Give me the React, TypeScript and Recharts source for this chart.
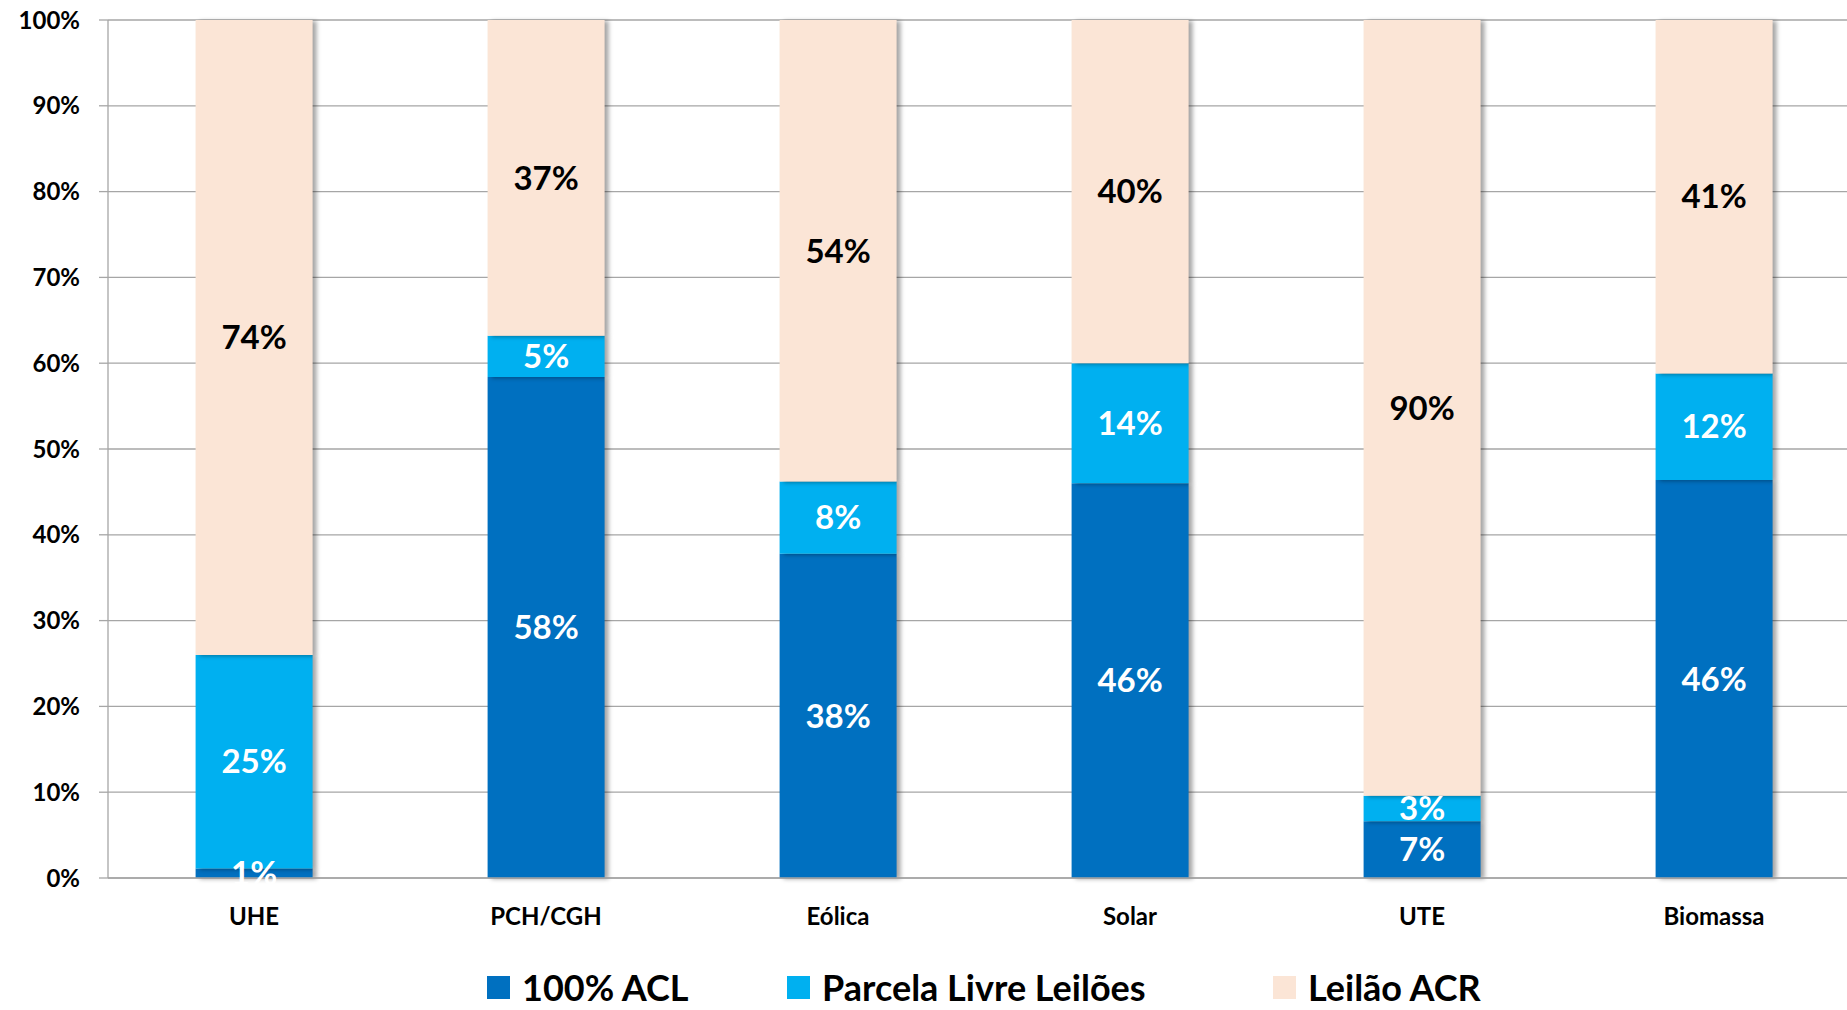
import React from 'react';
import { BarChart, Bar, XAxis, YAxis, CartesianGrid, Legend, LabelList, Rectangle } from 'recharts';

const categories = ['UHE', 'PCH/CGH', 'Eólica', 'Solar', 'UTE', 'Biomassa'];
const acl = [1.1, 58.4, 37.8, 46.0, 6.6, 46.4];
const parcela = [24.9, 4.8, 8.4, 14.0, 3.0, 12.4];
const leilao = [74.0, 36.8, 53.8, 40.0, 90.4, 41.2];
const yTicks = [0, 10, 20, 30, 40, 50, 60, 70, 80, 90, 100];
const sepTicks = [0, 1, 2, 3, 4, 5, 6];

const seriesNames = ['100% ACL', 'Parcela Livre Leilões', 'Leilão ACR'];
const seriesColors = ['#0070C0', '#00B0F0', '#FBE5D6'];
const labelColors = ['#FFFFFF', '#FFFFFF', '#000000'];
const keys = ['acl', 'parcela', 'leilao'];

const data = categories.map((c, i) => ({ name: c, acl: acl[i], parcela: parcela[i], leilao: leilao[i] }));

const FONT = 'Lato, "Open Sans", sans-serif';
const GRID = '#A6A6A6';
const fmt = (v: any) => `${Math.round(Number(v))}%`;

const ShadowRect = (props: any) => (
  <Rectangle {...props} style={{ filter: 'drop-shadow(4px 1px 2px rgba(0,0,0,0.35))' }} />
);

const legendItemWidths = [300, 486, 300];

const LegendContent = () => (
  <div style={{ display: 'flex', alignItems: 'center', paddingLeft: 487, height: 46, fontFamily: FONT, fontWeight: 700, fontSize: 36, color: '#000' }}>
    {seriesNames.map((n, i) => (
      <div key={n} style={{ width: legendItemWidths[i], display: 'flex', alignItems: 'center', whiteSpace: 'nowrap' }}>
        <span style={{ display: 'inline-block', width: 23, height: 23, background: seriesColors[i], marginRight: 12 }} />
        <span style={{ lineHeight: '44px' }}>{n}</span>
      </div>
    ))}
  </div>
);

export default function App() {
  return (
    <div style={{ position: 'absolute', left: 0, top: 0, width: 1847, height: 1010, overflow: 'hidden', background: '#fff' }}>
      <BarChart
        width={1860}
        height={1010}
        data={data}
        margin={{ top: 20, right: 0, left: 0, bottom: 0 }}
        barCategoryGap="30%"
      >
        <CartesianGrid vertical={false} stroke={GRID} strokeWidth={1.3} />
        <XAxis
          xAxisId="sep"
          type="number"
          domain={[0, 6]}
          ticks={sepTicks}
          tick={false}
          axisLine={false}
          tickLine={{ stroke: GRID, strokeWidth: 1.3 }}
          tickSize={9}
          height={0}
          interval={0}
        />
        <XAxis
          xAxisId="cat"
          dataKey="name"
          height={86}
          axisLine={{ stroke: GRID, strokeWidth: 1.3 }}
          tickLine={false}
          tickSize={0}
          tickMargin={30}
          interval={0}
          tick={{ fill: '#000', fontSize: 24, fontWeight: 700, fontFamily: FONT }}
        />
        <YAxis
          domain={[0, 100]}
          ticks={yTicks}
          interval={0}
          tickFormatter={(v: any) => `${v}%`}
          width={108}
          axisLine={{ stroke: GRID, strokeWidth: 1.3 }}
          tickLine={{ stroke: GRID, strokeWidth: 1.3 }}
          tickSize={9}
          tickMargin={19}
          tick={{ fill: '#000', fontSize: 24, fontWeight: 700, fontFamily: FONT }}
        />
        <Legend verticalAlign="bottom" height={46} content={() => <LegendContent />} wrapperStyle={{ left: 0, width: 1847 }} />
        {keys.map((k, i) => (
          <Bar
            key={k}
            xAxisId="cat"
            dataKey={k}
            name={seriesNames[i]}
            stackId="s"
            fill={seriesColors[i]}
            isAnimationActive={false}
            shape={ShadowRect}
          >
            <LabelList
              dataKey={k}
              position="center"
              formatter={fmt}
              fill={labelColors[i]}
              fontSize={33}
              fontWeight={700}
              fontFamily={FONT}
            />
          </Bar>
        ))}
      </BarChart>
    </div>
  );
}
